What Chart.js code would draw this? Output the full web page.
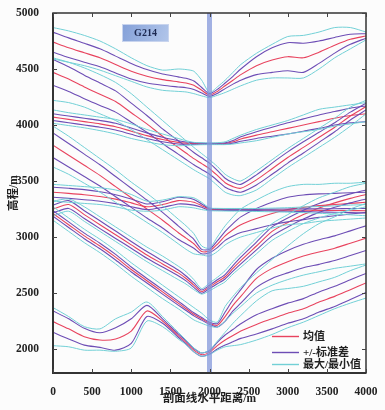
<!DOCTYPE html>
<html><head><meta charset="utf-8">
<script src="https://cdn.jsdelivr.net/npm/chart.js@4.4.0/dist/chart.umd.min.js"></script>
<style>html,body{margin:0;padding:0;background:#fcfcfc;}#wrap{position:relative;width:385px;height:410px;}canvas{display:block}</style>
</head><body><div id="wrap"><canvas id="c" width="385" height="410"></canvas></div>
<script>
// horizontal distance along the swath profile (m)
const distance = [0,200,400,600,800,1000,1200,1400,1600,1700,1800,1900,2000,2100,2200,2300,2400,2600,2800,3000,3200,3400,3600,3800,4000];

// Profile A (top)
const meanA = [4740,4690,4645,4600,4540,4480,4435,4405,4385,4375,4355,4310,4268,4300,4350,4400,4450,4530,4580,4610,4600,4650,4712,4765,4795];
const sdA   = [90,88,85,80,75,70,60,50,45,42,38,25,12,18,25,35,50,80,110,125,130,100,70,45,20];
const maxA  = [4870,4840,4800,4750,4680,4600,4530,4490,4500,4495,4480,4400,4290,4340,4400,4470,4540,4640,4720,4790,4800,4830,4870,4870,4830];
const minA  = [4590,4560,4530,4490,4440,4390,4340,4310,4300,4295,4280,4260,4245,4265,4290,4320,4350,4400,4420,4420,4420,4500,4600,4680,4760];
// Profile B
const meanB = [4470,4410,4340,4275,4210,4110,4010,3900,3800,3750,3700,3655,3610,3550,3485,3450,3435,3510,3610,3710,3800,3890,3980,4080,4165];
const sdB   = [115,110,105,100,95,85,75,65,60,58,55,52,50,45,40,36,35,45,50,50,50,45,40,35,30];
const maxB  = [4600,4560,4510,4450,4380,4280,4160,4040,3920,3860,3800,3745,3690,3630,3560,3520,3500,3590,3690,3790,3880,3970,4060,4160,4220];
const minB  = [4220,4200,4160,4100,4040,3960,3870,3780,3690,3645,3600,3560,3520,3460,3400,3375,3370,3420,3520,3620,3710,3800,3890,3990,4100];
// Profile C
const meanC = [4070,4050,4030,4010,3985,3945,3905,3870,3845,3838,3835,3833,3832,3833,3835,3850,3875,3910,3940,3970,4000,4030,4060,4085,4100];
const sdC   = [30,30,30,30,30,28,25,20,15,10,8,5,4,4,6,12,20,30,40,50,55,60,60,65,70];
const maxC  = [4135,4110,4090,4070,4050,4010,3960,3920,3880,3860,3845,3842,3840,3842,3850,3880,3910,3960,4000,4040,4090,4140,4160,4180,4200];
const minC  = [4015,3995,3975,3950,3920,3880,3850,3825,3815,3818,3822,3824,3825,3825,3825,3830,3840,3860,3890,3920,3940,3960,3990,4010,4030];
// Profile D
const meanD = [3820,3730,3640,3550,3450,3350,3250,3150,3040,2990,2940,2870,2875,2935,3010,3065,3110,3165,3210,3245,3265,3280,3290,3300,3310];
const sdD   = [110,105,100,95,90,85,80,70,60,50,40,20,15,30,40,55,70,90,100,110,110,105,100,95,90];
const maxD  = [3990,3900,3800,3700,3600,3490,3390,3280,3160,3100,3030,2920,2900,3000,3100,3180,3250,3330,3400,3450,3470,3470,3480,3480,3490];
const minD  = [3625,3560,3480,3400,3310,3220,3130,3040,2940,2890,2850,2840,2830,2870,2930,2970,3000,3040,3080,3110,3120,3140,3150,3160,3170];
// Profile E
const meanE = [3400,3390,3378,3362,3338,3305,3270,3290,3325,3322,3310,3280,3248,3245,3244,3243,3243,3242,3241,3240,3239,3238,3237,3236,3235];
const sdE   = [45,45,45,42,40,35,25,25,30,28,25,15,8,6,6,6,6,6,8,10,12,14,16,18,20];
const maxE  = [3470,3460,3450,3440,3420,3380,3320,3330,3360,3358,3350,3310,3260,3256,3255,3255,3255,3255,3258,3262,3268,3272,3278,3285,3290];
const minE  = [3320,3310,3300,3290,3270,3240,3230,3240,3270,3268,3260,3245,3235,3233,3232,3231,3231,3228,3225,3222,3218,3212,3205,3198,3190];
// Profile F
const meanF = [3250,3290,3200,3110,3020,2930,2840,2760,2680,2630,2570,2512,2555,2600,2645,2720,2790,2920,3050,3130,3200,3260,3305,3345,3380];
const sdF   = [35,35,35,35,33,30,30,28,25,22,20,15,15,18,20,25,30,35,40,40,40,40,40,40,40];
const maxF  = [3320,3340,3270,3180,3090,3000,2910,2830,2740,2690,2620,2540,2590,2640,2700,2780,2850,2990,3120,3200,3280,3350,3400,3450,3480];
const minF  = [3190,3230,3140,3050,2960,2870,2780,2700,2620,2580,2530,2490,2520,2560,2600,2670,2730,2850,2970,3050,3120,3170,3210,3240,3270];
// Profile G
const meanG = [3210,3110,3010,2920,2820,2710,2610,2510,2410,2360,2310,2270,2230,2212,2290,2390,2470,2630,2720,2780,2830,2866,2900,2945,2990];
const sdG   = [25,25,25,25,25,22,20,20,18,16,14,12,10,15,40,50,60,80,90,100,105,110,110,110,110];
const maxG  = [3270,3170,3070,2980,2880,2770,2670,2570,2470,2420,2370,2320,2260,2240,2380,2470,2550,2680,2800,2920,3030,3120,3180,3250,3300];
const minG  = [3150,3050,2950,2860,2760,2650,2550,2450,2360,2310,2260,2230,2205,2195,2250,2320,2380,2500,2570,2620,2660,2690,2720,2740,2760];
// Profile H (bottom)
const meanH = [2245,2180,2110,2080,2090,2160,2340,2250,2120,2060,1990,1950,1970,2030,2080,2120,2160,2220,2270,2320,2360,2420,2470,2530,2590];
const sdH   = [95,90,75,65,100,110,50,20,15,15,15,15,15,30,45,55,65,85,90,90,90,90,90,88,85];
const maxH  = [2370,2290,2200,2180,2270,2330,2420,2290,2150,2080,2010,1965,1990,2070,2150,2230,2300,2430,2520,2540,2560,2600,2640,2700,2750];
const minH  = [2030,2020,1990,1990,1980,2010,2250,2200,2090,2040,1975,1935,1950,1990,2020,2030,2040,2080,2130,2190,2240,2300,2360,2410,2455];

const xTicks = [0,500,1000,1500,2000,2500,3000,3500,4000];
const yTicks = [2000,2500,3000,3500,4000,4500,5000];
const legendLabels = ['均值','+/-标准差','最大/最小值'];
const profileName = 'G214';
const markerDistance = 2000;
const xTitle = '剖面线水平距离/m';
const yTitle = '高程/m';

const RED = '#e8435e', PURPLE = '#6d4db5', CYAN = '#72d0d6';
const groups = [
  [meanA,sdA,maxA,minA],[meanB,sdB,maxB,minB],[meanC,sdC,maxC,minC],[meanD,sdD,maxD,minD],
  [meanE,sdE,maxE,minE],[meanF,sdF,maxF,minF],[meanG,sdG,maxG,minG],[meanH,sdH,maxH,minH]
];
const pts = arr => arr.map((v,i)=>({x:distance[i], y:v}));
const ds = (data,color,w)=>({data, borderColor:color, borderWidth:w, pointRadius:0, fill:false, tension:0.25});
const datasets = [];
groups.forEach(([m,s,hi,lo])=>{
  datasets.push(ds(pts(hi),CYAN,1), ds(pts(lo),CYAN,1));
});
groups.forEach(([m,s,hi,lo])=>{
  datasets.push(ds(pts(m.map((v,i)=>v+s[i])),PURPLE,1.1), ds(pts(m.map((v,i)=>v-s[i])),PURPLE,1.1));
});
groups.forEach(([m])=>{ datasets.push(ds(pts(m),RED,1.1)); });

const SERIF = '"Liberation Serif","Noto Sans CJK SC",serif';
const decor = {
  id:'decor',
  afterDatasetsDraw(chart){
    const {ctx, chartArea:a, scales:{x,y}} = chart;
    ctx.save();
    // marker line
    const mx = x.getPixelForValue(markerDistance);
    ctx.fillStyle = 'rgba(128,148,218,0.72)';
    ctx.fillRect(mx-2.5, a.top, 5, a.bottom-a.top);
    // frame
    ctx.strokeStyle = '#333'; ctx.lineWidth = 1.5;
    ctx.strokeRect(a.left, a.top, a.right-a.left, a.bottom-a.top);
    ctx.lineWidth = 2;
    ctx.beginPath(); ctx.moveTo(a.left, a.top); ctx.lineTo(a.left, a.bottom); ctx.lineTo(a.right, a.bottom); ctx.stroke();
    // inner ticks
    ctx.lineWidth = 1; ctx.strokeStyle = '#444';
    ctx.beginPath();
    xTicks.forEach(v=>{ const px = Math.round(x.getPixelForValue(v))+0.5;
      ctx.moveTo(px,a.bottom); ctx.lineTo(px,a.bottom-4); ctx.moveTo(px,a.top); ctx.lineTo(px,a.top+4); });
    yTicks.forEach(v=>{ const py = Math.round(y.getPixelForValue(v))+0.5;
      ctx.moveTo(a.left,py); ctx.lineTo(a.left+4,py); ctx.moveTo(a.right,py); ctx.lineTo(a.right-4,py); });
    ctx.stroke();
    // profile name box
    const g = ctx.createLinearGradient(122,24,169,42);
    g.addColorStop(0,'#84a0d8'); g.addColorStop(1,'#b2c6ea');
    ctx.fillStyle = g; ctx.fillRect(122,24,47,18);
    ctx.strokeStyle = '#c8d4ee'; ctx.lineWidth = 1; ctx.strokeRect(122.5,24.5,46,17);
    ctx.fillStyle = '#1c2850'; ctx.font = 'bold 10px ' + SERIF;
    ctx.textAlign = 'center'; ctx.textBaseline = 'middle';
    ctx.fillText(profileName, 145.5, 33.5);
    // legend
    const cols = [RED, PURPLE, CYAN], rows = [336, 352, 364];
    ctx.textAlign = 'left'; ctx.font = 'bold 11px ' + SERIF; ctx.fillStyle = '#222';
    rows.forEach((ry,i)=>{
      ctx.strokeStyle = cols[i]; ctx.lineWidth = 1.4;
      ctx.beginPath(); ctx.moveTo(272, ry+0.5); ctx.lineTo(299, ry+0.5); ctx.stroke();
      ctx.fillText(legendLabels[i], 303, ry+1);
    });
    ctx.restore();
  }
};

new Chart(document.getElementById('c'), {
  type:'line',
  data:{datasets},
  options:{
    responsive:false, animation:false,
    layout:{padding:{top:13,right:19,left:0,bottom:0}},
    plugins:{legend:{display:false}, tooltip:{enabled:false}},
    scales:{
      x:{type:'linear', min:0, max:4000,
        afterBuildTicks:s=>{ s.ticks = xTicks.map(v=>({value:v})); },
        afterFit:s=>{ s.height = 37; },
        grid:{display:false}, border:{display:false},
        ticks:{color:'#222', font:{family:SERIF, size:11.5, weight:'bold'}, padding:4, maxRotation:0, callback:v=>String(v)},
        title:{display:true, text:xTitle, color:'#222', font:{family:SERIF, size:11.5, weight:'bold'}, padding:{top:0,bottom:4}}
      },
      y:{min:1786, max:5000,
        afterBuildTicks:s=>{ s.ticks = yTicks.map(v=>({value:v})); },
        afterFit:s=>{ s.width = 53; },
        grid:{display:false}, border:{display:false},
        ticks:{color:'#222', font:{family:SERIF, size:11.5, weight:'bold'}, padding:6, callback:v=>String(v)},
        title:{display:true, text:yTitle, color:'#222', font:{family:SERIF, size:11.5, weight:'bold'}, padding:{top:7,bottom:0}}
      }
    }
  },
  plugins:[decor]
});
</script></body></html>
